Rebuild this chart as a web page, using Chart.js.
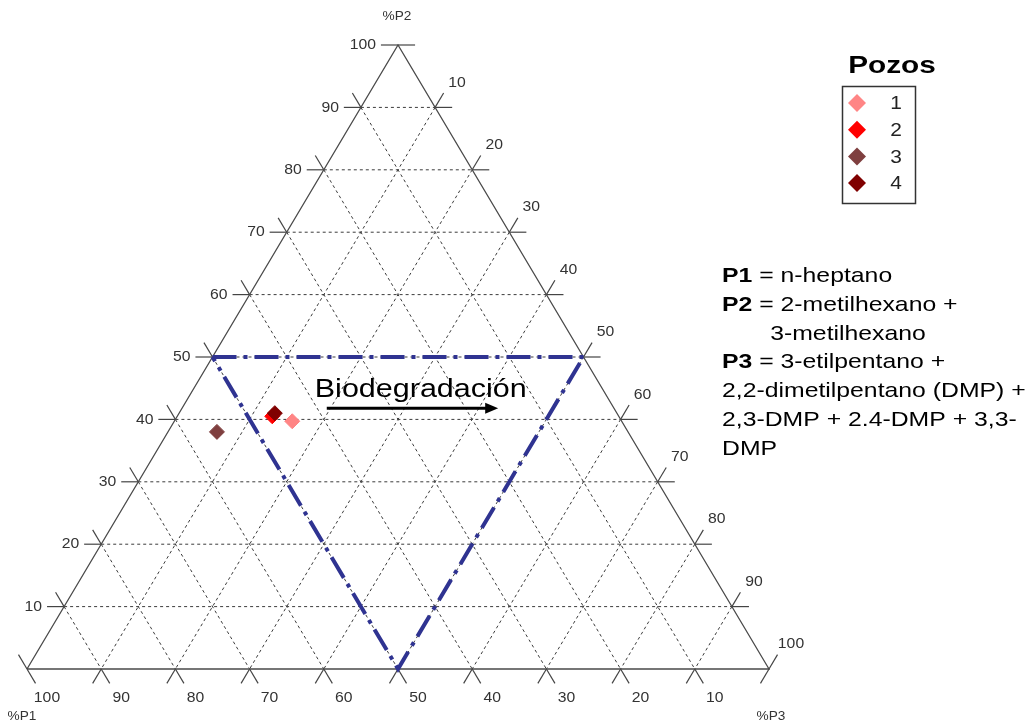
<!DOCTYPE html>
<html><head><meta charset="utf-8">
<script src="https://cdn.jsdelivr.net/npm/chart.js@4/dist/chart.umd.min.js"></script>
<style>html,body{margin:0;padding:0;background:#fff}canvas{display:block}</style>
</head><body>
<canvas id="c" width="1027" height="728"></canvas>
<script>
// ---------- data ----------
const wellNames = ['1', '2', '3', '4'];
const wellP1 = [44.4, 46.7, 55.4, 46.1];
const wellP2 = [39.7, 40.5, 38.0, 41.0];
const wellP3 = [15.9, 12.8, 6.6, 12.9];
const wellColors = ['#ff8585', '#ff0000', '#7f3f3f', '#800000'];

const gridValues = [10, 20, 30, 40, 50, 60, 70, 80, 90];
const tickValues = [10, 20, 30, 40, 50, 60, 70, 80, 90, 100];
const p2TickLabels = ['10', '20', '30', '40', '50', '60', '70', '80', '90', '100'];
const p3TickLabels = ['10', '20', '30', '40', '50', '60', '70', '80', '90', '100'];
const p1TickLabels = ['10', '20', '30', '40', '50', '60', '70', '80', '90', '100'];
const axisTitles = ['%P1', '%P2', '%P3'];

const zoneP1 = [50, 0, 50, 50];
const zoneP2 = [50, 50, 0, 50];
const zoneP3 = [0, 50, 50, 0];

const arrowLabel = 'Biodegradación';
const arrowStart = [38.7, 41.8, 19.5]; // P1,P2,P3 of arrow tail
const arrowEnd = [15.6, 41.8, 42.6];   // P1,P2,P3 of arrow tip
const legendTitle = 'Pozos';
const noteLines = [
  [['P1', true], [' = n-heptano', false]],
  [['P2', true], [' = 2-metilhexano +', false]],
  [['       3-metilhexano', false]],
  [['P3', true], [' = 3-etilpentano +', false]],
  [['2,2-dimetilpentano (DMP) +', false]],
  [['2,3-DMP + 2.4-DMP + 3,3-', false]],
  [['DMP', false]]
];

// ---------- helpers ----------
const T = 2.3; // tick extension in ternary units
function xy(p1, p2, p3) { return { x: p3 + p2 / 2, y: p2 }; }
const FONT = '"Liberation Sans", Arial, sans-serif';

const datasets = [];
function seg(a, b, style, order) {
  datasets.push(Object.assign({
    data: [xy(...a), xy(...b)], showLine: true, pointRadius: 0, fill: false,
    clip: false, order: order
  }, style));
}
const gridStyle = { borderColor: '#3c3c3c', borderWidth: 1, borderDash: [3, 3] };
const tickStyle = { borderColor: '#444', borderWidth: 1.2 };

// triangle sides
datasets.push({
  data: [xy(100, 0, 0), xy(0, 100, 0), xy(0, 0, 100), xy(100, 0, 0)],
  showLine: true, pointRadius: 0, borderColor: '#4a4a4a', borderWidth: 1.3, clip: false, order: 9
});

// grid lines (dashed, interior)
gridValues.forEach(v => {
  seg([100 - v, v, 0], [0, v, 100 - v], gridStyle, 10);      // const P2
  seg([v, 100 - v, 0], [v, 0, 100 - v], gridStyle, 10);      // const P1
  seg([0, 100 - v, v], [100 - v, 0, v], gridStyle, 10);      // const P3
});
// ticks: solid extensions of each grid line beyond the triangle
tickValues.forEach(v => {
  seg([100 - v, v, 0], [100 - v + T, v, -T], tickStyle, 9);
  seg([0, v, 100 - v], [-T, v, 100 - v + T], tickStyle, 9);
  seg([v, 100 - v, 0], [v, 100 - v + T, -T], tickStyle, 9);
  seg([v, 0, 100 - v], [v, -T, 100 - v + T], tickStyle, 9);
  seg([0, 100 - v, v], [-T, 100 - v + T, v], tickStyle, 9);
  seg([100 - v, 0, v], [100 - v + T, -T, v], tickStyle, 9);
});

// biodegradation zone
datasets.push({
  data: zoneP1.map((p, i) => xy(p, zoneP2[i], zoneP3[i])),
  showLine: true, pointRadius: 0, borderColor: '#2f3391', borderWidth: 4,
  borderDash: [24, 7, 4, 7], clip: false, order: 5
});

// wells
wellNames.forEach((n, i) => {
  datasets.push({
    label: n, data: [xy(wellP1[i], wellP2[i], wellP3[i])],
    pointStyle: 'rectRot', pointRadius: 7.5, backgroundColor: wellColors[i],
    borderColor: wellColors[i], borderWidth: 1, clip: false, order: 3 - i
  });
});

function text(ctx, s, x, y, font, color, align, sx, baseline) {
  ctx.save();
  ctx.translate(x, y);
  ctx.scale(sx || 1, 1);
  ctx.font = font; ctx.fillStyle = color;
  ctx.textAlign = align || 'left'; ctx.textBaseline = baseline || 'alphabetic';
  ctx.fillText(s, 0, 0);
  ctx.restore();
}
function diamond(ctx, x, y, r, color) {
  ctx.beginPath();
  ctx.moveTo(x - r, y); ctx.lineTo(x, y - r); ctx.lineTo(x + r, y); ctx.lineTo(x, y + r);
  ctx.closePath(); ctx.fillStyle = color; ctx.fill();
}

const overlay = {
  id: 'overlay',
  afterDraw(chart) {
    const ctx = chart.ctx, sx = chart.scales.x, sy = chart.scales.y;
    const px = p => ({ x: sx.getPixelForValue(p.x), y: sy.getPixelForValue(p.y) });
    const tf = '15px ' + FONT, tc = '#333';
    tickValues.forEach((v, i) => {
      const p = px(xy(100 - v, v, 0));
      text(ctx, p2TickLabels[i], p.x - 22, p.y, tf, tc, 'right', 1.05, 'middle');
    });
    tickValues.forEach((v, i) => {
      const p = px(xy(0, 100 - v, v));
      text(ctx, p3TickLabels[i], p.x + 22, p.y - 25, tf, tc, 'center', 1.05, 'middle');
    });
    tickValues.forEach((v, i) => {
      const p = px(xy(v, 0, 100 - v));
      text(ctx, p1TickLabels[i], p.x + 20, p.y + 29, tf, tc, 'center', 1.05, 'middle');
    });
    const c1 = px(xy(100, 0, 0)), c2 = px(xy(0, 100, 0)), c3 = px(xy(0, 0, 100));
    const af = '13px ' + FONT;
    text(ctx, axisTitles[0], c1.x - 5, c1.y + 47, af, tc, 'center', 1.05, 'middle');
    text(ctx, axisTitles[1], c2.x - 1, c2.y - 29, af, tc, 'center', 1.05, 'middle');
    text(ctx, axisTitles[2], c3.x + 2, c3.y + 47, af, tc, 'center', 1.05, 'middle');

    // arrow
    const a = px(xy(...arrowStart)), b = px(xy(...arrowEnd));
    ctx.save();
    ctx.strokeStyle = '#000'; ctx.fillStyle = '#000'; ctx.lineWidth = 3;
    ctx.beginPath(); ctx.moveTo(a.x, a.y); ctx.lineTo(b.x - 10, b.y); ctx.stroke();
    ctx.beginPath(); ctx.moveTo(b.x, b.y); ctx.lineTo(b.x - 13, b.y - 5.5); ctx.lineTo(b.x - 13, b.y + 5.5);
    ctx.closePath(); ctx.fill();
    ctx.restore();
    text(ctx, arrowLabel, a.x - 12, a.y - 11, '25px ' + FONT, '#000', 'left', 1.22);

    // legend
    text(ctx, legendTitle, 892, 73, 'bold 24px ' + FONT, '#000', 'center', 1.24);
    ctx.save();
    ctx.strokeStyle = '#333'; ctx.lineWidth = 1.5;
    ctx.strokeRect(842.5, 86.5, 73, 117);
    ctx.restore();
    wellNames.forEach((n, i) => {
      const y = 103 + i * 26.7;
      diamond(ctx, 857, y, 9, wellColors[i]);
      text(ctx, n, 896, y + 1, '19px ' + FONT, '#222', 'center', 1.1, 'middle');
    });

    // notes
    const nsx = 1.18;
    noteLines.forEach((line, i) => {
      let x = 722;
      const y = 282 + i * 28.8;
      line.forEach(([s, bold]) => {
        const f = (bold ? 'bold ' : '') + '21px ' + FONT;
        text(ctx, s, x, y, f, '#000', 'left', nsx);
        ctx.save(); ctx.font = f; x += ctx.measureText(s).width * nsx; ctx.restore();
      });
    });
  }
};

new Chart(document.getElementById('c'), {
  type: 'scatter',
  data: { datasets },
  options: {
    responsive: false, animation: false, devicePixelRatio: 1, events: [],
    layout: { padding: { left: 27, right: 258, top: 45, bottom: 59 } },
    scales: {
      x: { type: 'linear', min: 0, max: 100, display: false },
      y: { type: 'linear', min: 0, max: 100, display: false }
    },
    plugins: { legend: { display: false }, tooltip: { enabled: false }, title: { display: false } }
  },
  plugins: [overlay]
});
</script>
</body></html>
